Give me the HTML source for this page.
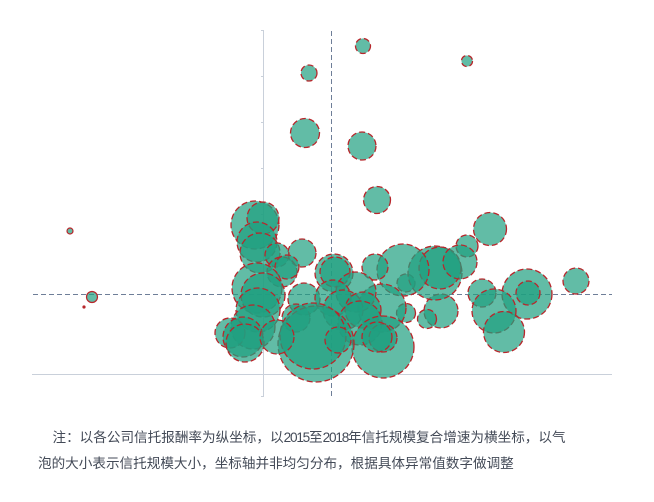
<!DOCTYPE html>
<html>
<head>
<meta charset="utf-8">
<style>
  html, body { margin: 0; padding: 0; background: #ffffff; }
  body { width: 654px; height: 502px; position: relative; overflow: hidden; }
  svg { position: absolute; left: 0; top: 0; }
  .note {
    position: absolute; left: 38px; top: 425px;
    font-family: "Liberation Sans", "Noto Sans CJK SC", sans-serif;
    font-size: 13.6px; line-height: 26px; color: #434a57;
    white-space: nowrap;
  }
  .d { letter-spacing: -1.2px; }
</style>
</head>
<body>
<svg width="654" height="502" viewBox="0 0 654 502" xmlns="http://www.w3.org/2000/svg">
  <!-- axes -->
  <line x1="32" y1="374.5" x2="612" y2="374.5" stroke="#c9d0da" stroke-width="1"/>
  <line x1="263.5" y1="30" x2="263.5" y2="397" stroke="#c9d0da" stroke-width="1"/>
  <g stroke="#c9d0da" stroke-width="1">
    <line x1="261" y1="30.5" x2="263.5" y2="30.5"/>
    <line x1="261" y1="76.5" x2="263.5" y2="76.5"/>
    <line x1="261" y1="122.5" x2="263.5" y2="122.5"/>
    <line x1="261" y1="168.5" x2="263.5" y2="168.5"/>
    <line x1="261" y1="214.5" x2="263.5" y2="214.5"/>
    <line x1="261" y1="260.5" x2="263.5" y2="260.5"/>
    <line x1="261" y1="306.5" x2="263.5" y2="306.5"/>
    <line x1="261" y1="352.5" x2="263.5" y2="352.5"/>
    <line x1="261" y1="396.5" x2="263.5" y2="396.5"/>
  </g>
  <!-- dashed reference lines -->
  <line x1="33" y1="294.5" x2="612" y2="294.5" stroke="#6e7e98" stroke-width="1" stroke-dasharray="5 3"/>
  <line x1="331.5" y1="31" x2="331.5" y2="396" stroke="#6e7e98" stroke-width="1" stroke-dasharray="5 3"/>

  <!-- bubbles -->
  <g fill="#1f9f80" fill-opacity="0.7" stroke="#b8262b" stroke-width="1.3" stroke-dasharray="6 3">
    <!-- isolated -->
    <circle cx="363" cy="46" r="7.5"/>
    <circle cx="467" cy="61" r="5.5"/>
    <circle cx="309" cy="73" r="8"/>
    <circle cx="305" cy="133" r="14.5"/>
    <circle cx="362" cy="146" r="14"/>
    <circle cx="377" cy="200" r="13.5"/>
    <circle cx="490" cy="229" r="16.5"/>
    <circle cx="467" cy="246" r="11"/>
    <circle cx="576" cy="281" r="13"/>

    <!-- right group -->
    <circle cx="527" cy="294" r="25"/>
    <circle cx="528" cy="293" r="12"/>
    <circle cx="482" cy="293" r="14"/>
    <circle cx="494" cy="311" r="22"/>
    <circle cx="504" cy="332" r="20.5"/>
    <circle cx="441" cy="311" r="17"/>
    <circle cx="427" cy="319" r="9.5"/>
    <circle cx="406" cy="313" r="9.5"/>
    <circle cx="406" cy="283" r="9"/>
    <circle cx="435" cy="273" r="27"/>
    <circle cx="440" cy="268" r="21"/>
    <circle cx="460" cy="262" r="17"/>
    <circle cx="403" cy="270" r="26"/>

    <!-- middle -->
    <circle cx="375" cy="267" r="13"/>
    <circle cx="334" cy="273" r="19"/>
    <circle cx="335" cy="272" r="15"/>
    <circle cx="302" cy="253" r="14"/>
    <circle cx="382" cy="308" r="24"/>
    <circle cx="356" cy="292" r="20"/>
    <circle cx="304" cy="299" r="16"/>
    <circle cx="333" cy="298" r="18"/>
    <circle cx="343" cy="310" r="20"/>
    <circle cx="363" cy="310" r="18"/>
    <circle cx="360" cy="323" r="22"/>
    <circle cx="296" cy="318" r="14"/>
    <circle cx="383" cy="347" r="31"/>
    <circle cx="383" cy="338" r="14"/>
    <circle cx="377" cy="337" r="15"/>
    <circle cx="316" cy="344" r="38"/>
    <circle cx="313" cy="336" r="33"/>
    <circle cx="338" cy="340" r="13"/>

    <!-- left group -->
    <circle cx="255" cy="225" r="24"/>
    <circle cx="263" cy="218" r="16"/>
    <circle cx="257" cy="242" r="20"/>
    <circle cx="260" cy="253" r="20"/>
    <circle cx="277" cy="255" r="12"/>
    <circle cx="282" cy="272" r="15"/>
    <circle cx="287" cy="267" r="12"/>
    <circle cx="257" cy="288" r="25"/>
    <circle cx="263" cy="295" r="22"/>
    <circle cx="258" cy="310" r="22"/>
    <circle cx="253" cy="327" r="22"/>
    <circle cx="230" cy="333" r="15"/>
    <circle cx="243" cy="337" r="20"/>
    <circle cx="245" cy="343" r="19"/>
    <circle cx="277" cy="337" r="17"/>
  </g>

  <!-- tiny outliers on the left -->
  <g fill="#1f9f80" fill-opacity="0.7" stroke="#b8262b" stroke-width="1.2">
    <circle cx="70" cy="231" r="3"/>
    <circle cx="92" cy="297" r="5.5"/>
  </g>
  <circle cx="84" cy="307" r="1.6" fill="#b8262b"/>
</svg>

<div class="note"><span style="padding-left:14.5px"></span>注：以各公司信托报酬率为纵坐标，以<span class="d">2015</span>至<span class="d">2018</span>年信托规模复合增速为横坐标，以气<br>泡的大小表示信托规模大小，坐标轴并非均匀分布，根据具体异常值数字做调整</div>
</body>
</html>
